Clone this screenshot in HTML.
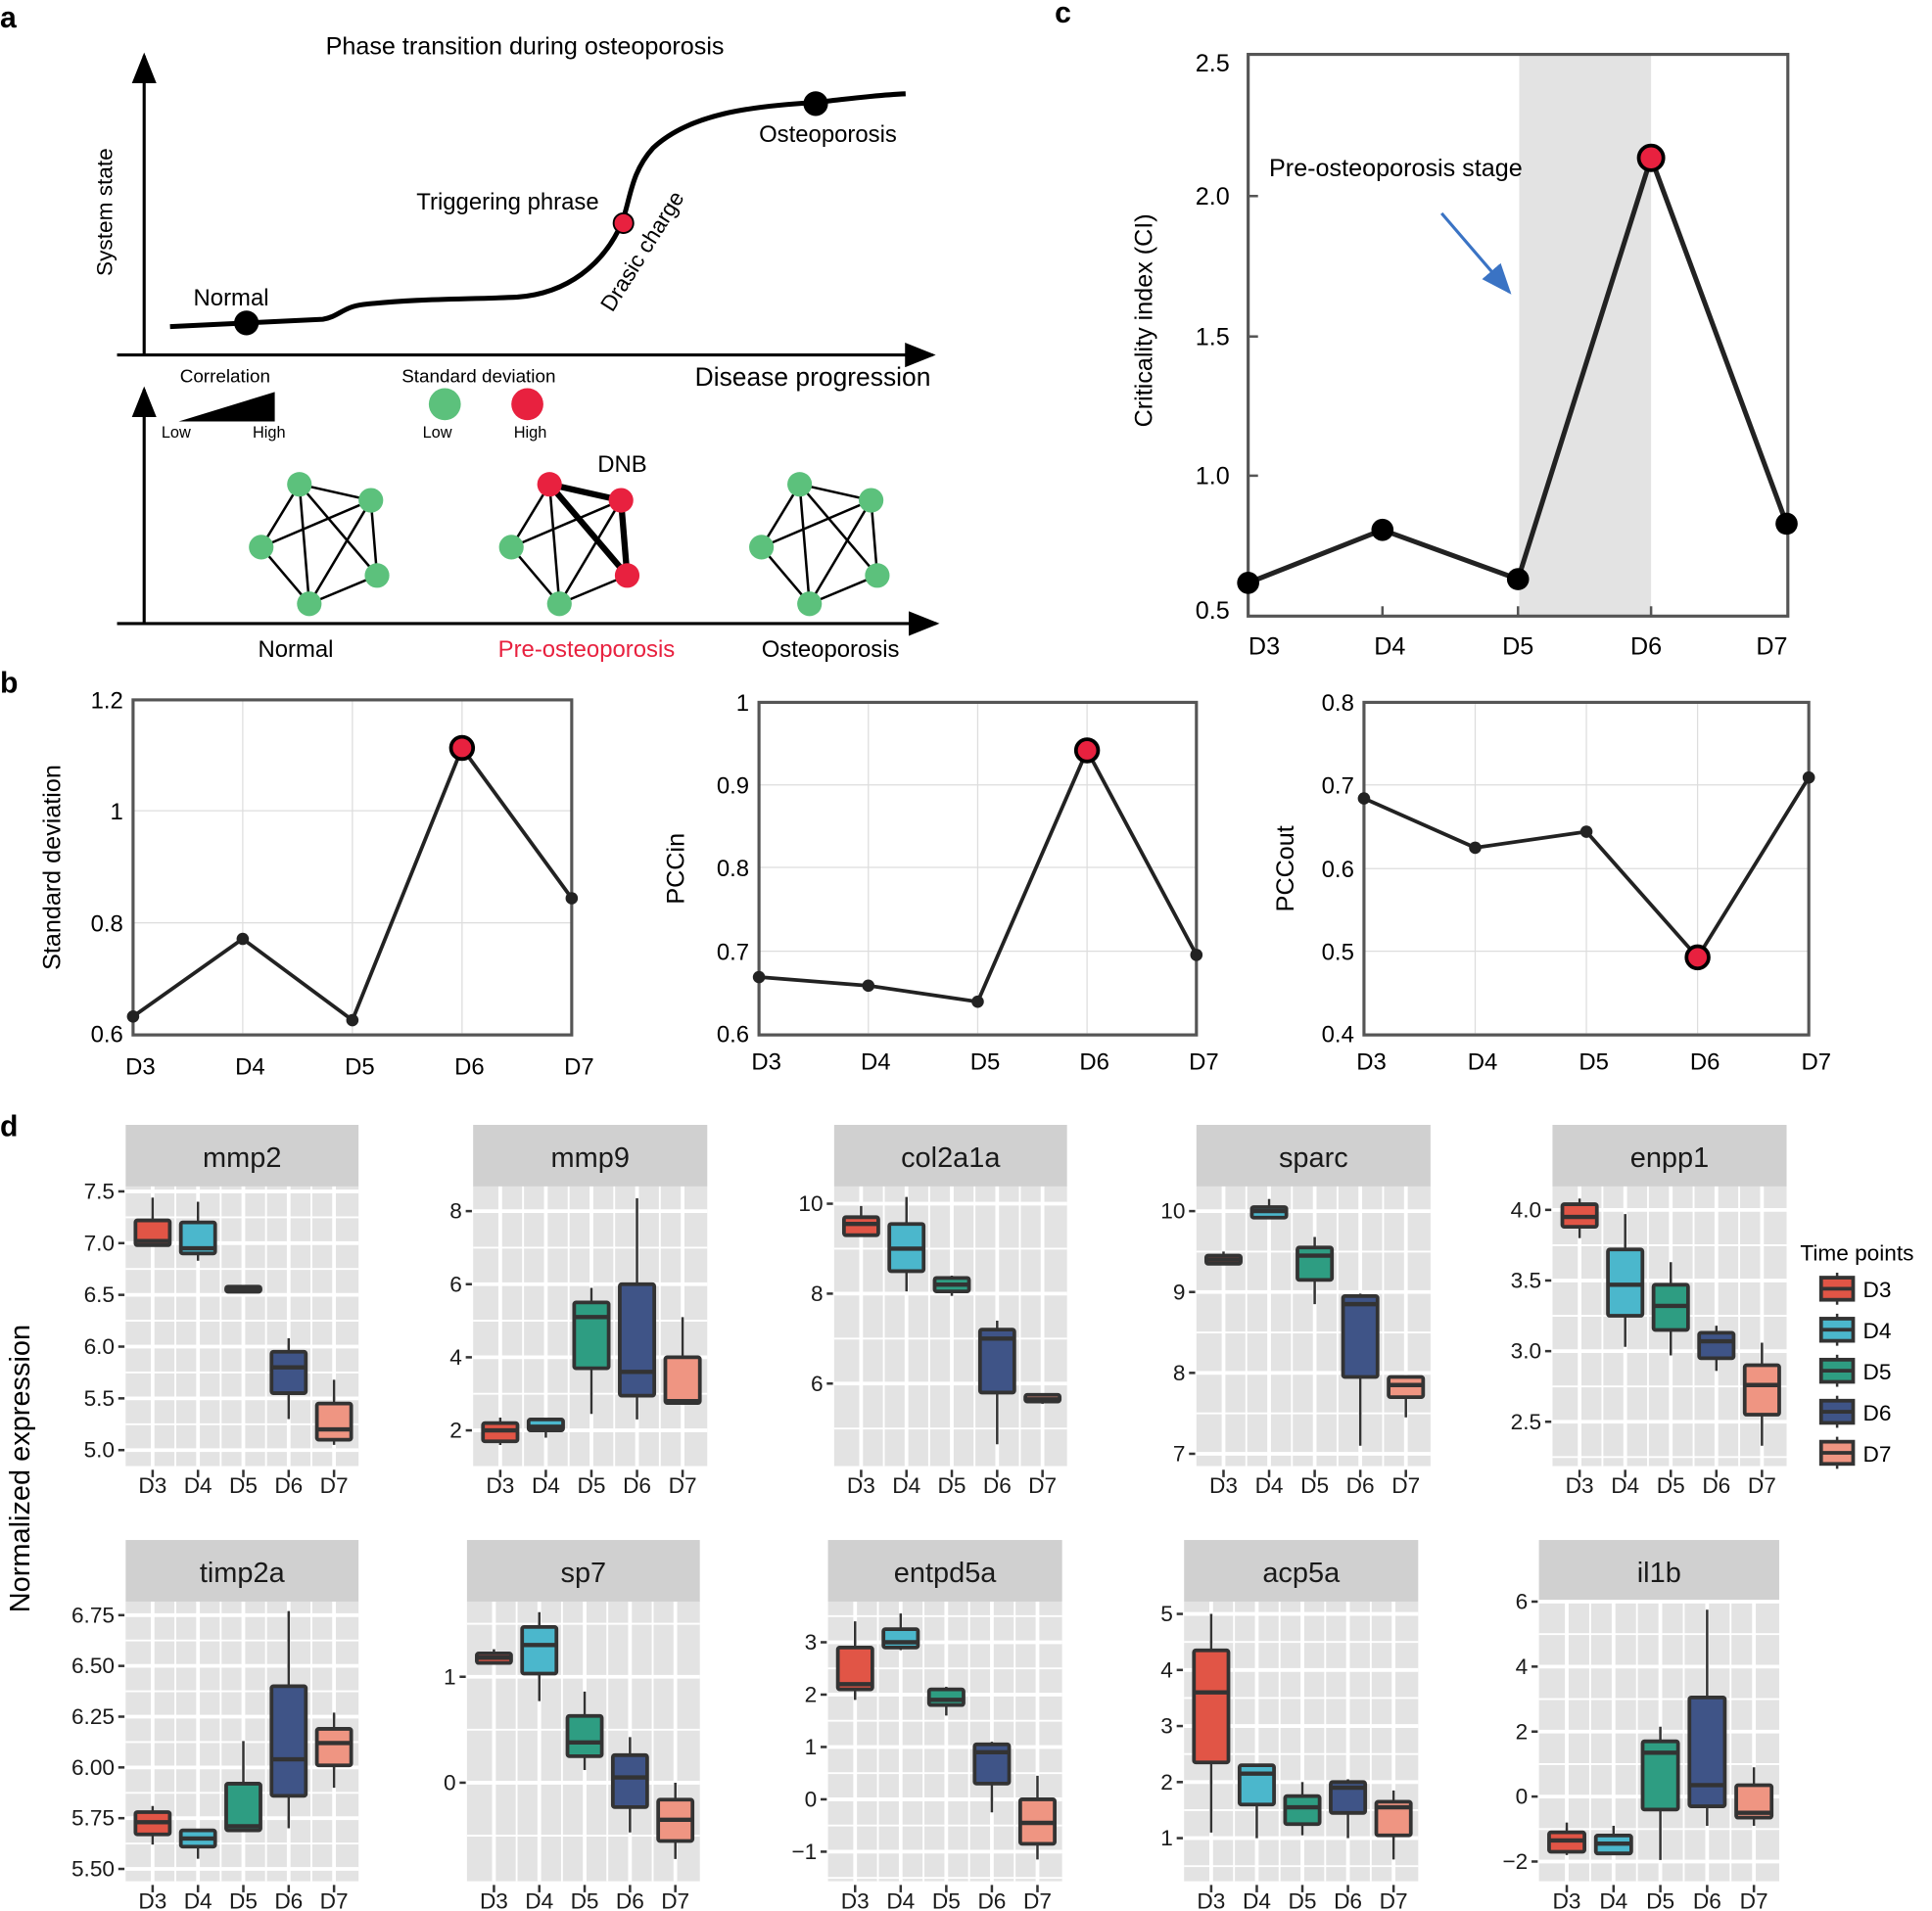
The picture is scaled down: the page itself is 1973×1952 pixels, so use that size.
<!DOCTYPE html>
<html><head><meta charset="utf-8"><style>
html,body{margin:0;padding:0;background:#fff}
svg{display:block;font-family:"Liberation Sans",Arial,sans-serif}
</style></head><body>
<svg id="s" width="1973" height="1952" viewBox="0 0 1568 1551" xmlns="http://www.w3.org/2000/svg">
<defs><marker id="ar" markerWidth="10" markerHeight="8" refX="9" refY="4" orient="auto"><path d="M0,0L10,4L0,8z" fill="#000"/></marker>
<marker id="ab" markerWidth="10" markerHeight="8" refX="9" refY="4" orient="auto"><path d="M0,0L10,4L0,8z" fill="#3A73C4"/></marker></defs>
<g font-weight="bold" font-size="24"><text x="0" y="22">a</text><text x="0" y="562">b</text><text x="856" y="18">c</text><text x="0" y="922">d</text></g>
<g font-size="19">
<line x1="117" y1="289" x2="117" y2="45" stroke="#000" stroke-width="2.5" marker-end="url(#ar)"/>
<line x1="95" y1="288" x2="757" y2="288" stroke="#000" stroke-width="2.5" marker-end="url(#ar)"/>
<text x="426" y="44" text-anchor="middle" font-size="20">Phase transition during osteoporosis</text>
<text transform="translate(91,172) rotate(-90)" text-anchor="middle" font-size="18">System state</text>
<path d="M138,265 L200,262 L262,259 C275,257 278,249 295,247 C340,242 380,243 420,241 C460,238 490,215 505,180 C512,160 512,140 530,120 C560,92 610,86 662,83 C690,80 710,77 735,76" fill="none" stroke="#000" stroke-width="4"/>
<circle cx="200" cy="262" r="10" fill="#000"/><circle cx="506" cy="181" r="8" fill="#E8213F" stroke="#000" stroke-width="1.5"/><circle cx="662" cy="84" r="10" fill="#000"/>
<text x="157" y="248">Normal</text><text x="338" y="170">Triggering phrase</text>
<text transform="translate(497,254) rotate(-58)" font-size="18">Drasic charge</text>
<text x="616" y="115">Osteoporosis</text><text x="564" y="313" font-size="21">Disease progression</text>
<line x1="117" y1="507" x2="117" y2="316" stroke="#000" stroke-width="2.5" marker-end="url(#ar)"/>
<line x1="95" y1="506" x2="760" y2="506" stroke="#000" stroke-width="2.5" marker-end="url(#ar)"/>
<text x="146" y="310" font-size="15">Correlation</text><path d="M145,342L223,342L223,318z" fill="#000"/>
<text x="131" y="355" font-size="13">Low</text><text x="205" y="355" font-size="13">High</text>
<text x="326" y="310" font-size="15">Standard deviation</text>
<circle cx="361" cy="328" r="13" fill="#5CC17C"/><circle cx="428" cy="328" r="13" fill="#E8213F"/>
<text x="343" y="355" font-size="13">Low</text><text x="417" y="355" font-size="13">High</text>
<text x="485" y="383">DNB</text>
<g id="nets"></g>
<text x="240" y="533" text-anchor="middle">Normal</text>
<text x="476" y="533" text-anchor="middle" fill="#E8213F">Pre-osteoporosis</text>
<text x="674" y="533" text-anchor="middle">Osteoporosis</text>
</g>
<g font-size="20">
<rect x="1233" y="44" width="107" height="456" fill="#E3E3E3"/>
<rect x="1013" y="44" width="438" height="456" fill="none" stroke="#555" stroke-width="2.5"/>
<g text-anchor="end"><text x="998" y="58">2.5</text><text x="998" y="166">2.0</text><text x="998" y="280">1.5</text><text x="998" y="393">1.0</text><text x="998" y="502">0.5</text></g>
<g stroke="#555" stroke-width="2"><line x1="1013" y1="159" x2="1021" y2="159"/><line x1="1013" y1="273" x2="1021" y2="273"/><line x1="1013" y1="386" x2="1021" y2="386"/><line x1="1122" y1="500" x2="1122" y2="492"/><line x1="1232" y1="500" x2="1232" y2="492"/><line x1="1340" y1="500" x2="1340" y2="492"/></g>
<g text-anchor="middle"><text x="1026" y="531">D3</text><text x="1128" y="531">D4</text><text x="1232" y="531">D5</text><text x="1336" y="531">D6</text><text x="1438" y="531">D7</text></g>
<text transform="translate(935,260) rotate(-90)" text-anchor="middle">Criticality index (CI)</text>
<text x="1030" y="143">Pre-osteoporosis stage</text>
<line x1="1170" y1="173" x2="1225" y2="237" stroke="#3A73C4" stroke-width="2.5" marker-end="url(#ab)"/>
<polyline points="1013,473 1122,430 1232,470 1340,128 1450,425" fill="none" stroke="#222" stroke-width="4"/>
<circle cx="1013" cy="473" r="9" fill="#000"/><circle cx="1122" cy="430" r="9" fill="#000"/><circle cx="1232" cy="470" r="9" fill="#000"/><circle cx="1450" cy="425" r="9" fill="#000"/>
<circle cx="1340" cy="128" r="10" fill="#E8213F" stroke="#000" stroke-width="3"/>
</g>
<g id="b"></g>
<g id="d"></g>
</svg>
<script>
var NS="http://www.w3.org/2000/svg";
function el(p,t,a,txt){var e=document.createElementNS(NS,t);for(var k in a)e.setAttribute(k,a[k]);if(txt!=null)e.textContent=txt;p.appendChild(e);return e;}
var nets=document.getElementById('nets');
function net(dx,cols,thick){
 var P=[[243,393],[301,406],[212,444],[306,467],[251,490]].map(function(p){return[p[0]+dx,p[1]];});
 var E=[[0,1],[0,2],[0,3],[0,4],[1,4],[1,3],[2,4],[2,1],[3,4]];
 E.forEach(function(e,i){el(nets,'line',{x1:P[e[0]][0],y1:P[e[0]][1],x2:P[e[1]][0],y2:P[e[1]][1],stroke:'#000','stroke-width':thick&&thick[i]?5:2});});
 P.forEach(function(p,i){el(nets,'circle',{cx:p[0],cy:p[1],r:10,fill:cols[i]});});
}
var G='#5CC17C',R='#E8213F';
net(0,[G,G,G,G,G]);
net(203,[R,R,G,R,G],[1,0,1,0,0,1,0,0,0]);
net(406,[G,G,G,G,G]);
var b=document.getElementById('b');
function lineChart(x0,x1,y0,y1,ticks,pts,red,lab,labx,xly){
 var xs=[0,1,2,3,4].map(function(i){return x0+(x1-x0)*i/4;});
 xs.forEach(function(x){el(b,'line',{x1:x,y1:y0,x2:x,y2:y1,stroke:'#ddd','stroke-width':1});});
 ticks.forEach(function(t){el(b,'line',{x1:x0,y1:t[1],x2:x1,y2:t[1],stroke:'#ddd','stroke-width':1});el(b,'text',{x:x0-8,y:t[1]+7,'text-anchor':'end','font-size':19},t[0]);});
 el(b,'rect',{x:x0,y:y0,width:x1-x0,height:y1-y0,fill:'none',stroke:'#555','stroke-width':2.5});
 ['D3','D4','D5','D6','D7'].forEach(function(d,i){el(b,'text',{x:xs[i]+6,y:xly,'text-anchor':'middle','font-size':19},d);});
 el(b,'polyline',{points:pts.map(function(p,i){return xs[i]+','+p;}).join(' '),fill:'none',stroke:'#222','stroke-width':3});
 pts.forEach(function(p,i){if(i==red)el(b,'circle',{cx:xs[i],cy:p,r:9,fill:R,stroke:'#000','stroke-width':3});else el(b,'circle',{cx:xs[i],cy:p,r:5,fill:'#222'});});
 el(b,'text',{transform:'translate('+labx+','+((y0+y1)/2)+') rotate(-90)','text-anchor':'middle','font-size':20},lab);
}
lineChart(108,464,568,840,[['1.2',568],['1',658],['0.8',749],['0.6',839]],[825,762,828,607,729],3,'Standard deviation',49,872);
lineChart(616,971,570,840,[['1',570],['0.9',637],['0.8',704],['0.7',772],['0.6',839]],[793,800,813,609,775],3,'PCCin',555,868);
lineChart(1107,1468,570,840,[['0.8',570],['0.7',637],['0.6',705],['0.5',772],['0.4',839]],[648,688,675,777,631],3,'PCCout',1050,868);
var d=document.getElementById('d');
var C=['#E15546','#4BB7CC','#2E9D82','#3F5487','#EF9582'];
function box(name,x0,x1,st,pt,pb,r1,r2,ticks,tickLab,data){
 el(d,'rect',{x:x0,y:st,width:x1-x0,height:pt-st,fill:'#D0D0D0'});
 el(d,'text',{x:(x0+x1)/2,y:st+34,'text-anchor':'middle','font-size':23,fill:'#1a1a1a'},name);
 el(d,'rect',{x:x0,y:pt,width:x1-x0,height:pb-pt,fill:'#E3E3E3'});
 function Y(v){return r1[1]+(v-r1[0])*(r2[1]-r1[1])/(r2[0]-r1[0]);}
 var w=x1-x0, xs=[0,1,2,3,4].map(function(i){return x0+w*(22+37*i)/190;});
 for(var i=0;i<ticks.length-1;i++){var m=(Y(ticks[i])+Y(ticks[i+1]))/2;el(d,'line',{x1:x0,y1:m,x2:x1,y2:m,stroke:'#fff','stroke-width':1.5});}
 var st2=ticks[1]-ticks[0];
 [ticks[0]-st2/2,ticks[ticks.length-1]+st2/2].forEach(function(v){var y=Y(v);if(y>pt&&y<pb)el(d,'line',{x1:x0,y1:y,x2:x1,y2:y,stroke:'#fff','stroke-width':1.5});});
 for(var i=0;i<4;i++){var m=(xs[i]+xs[i+1])/2;el(d,'line',{x1:m,y1:pt,x2:m,y2:pb,stroke:'#fff','stroke-width':1.5});}
 ticks.forEach(function(t,i){var y=Y(t);el(d,'line',{x1:x0,y1:y,x2:x1,y2:y,stroke:'#fff','stroke-width':3});
  el(d,'line',{x1:x0-6,y1:y,x2:x0-1,y2:y,stroke:'#333','stroke-width':2});
  el(d,'text',{x:x0-9,y:y+6,'text-anchor':'end','font-size':18,fill:'#1a1a1a'},tickLab[i]);});
 xs.forEach(function(x,i){el(d,'line',{x1:x,y1:pt,x2:x,y2:pb,stroke:'#fff','stroke-width':3});
  el(d,'line',{x1:x,y1:pb+3,x2:x,y2:pb+9,stroke:'#333','stroke-width':2});
  el(d,'text',{x:x,y:pb+22,'text-anchor':'middle','font-size':18,fill:'#1a1a1a'},'D'+(i+3));});
 data.forEach(function(q,i){var x=xs[i],bw=w*28/190;
  el(d,'line',{x1:x,y1:Y(q[0]),x2:x,y2:Y(q[4]),stroke:'#333','stroke-width':2});
  var yt=Y(q[3]),yb=Y(q[1]);
  el(d,'rect',{x:x-bw/2,y:yt,width:bw,height:Math.max(yb-yt,2),fill:C[i],stroke:'#333','stroke-width':3,rx:1.5});
  el(d,'line',{x1:x-bw/2,y1:Y(q[2]),x2:x+bw/2,y2:Y(q[2]),stroke:'#333','stroke-width':3.5});
 });
}
function rng(a,b,s,dec){var r=[],l=[];for(var v=a;v<=b+1e-9;v+=s){r.push(v);l.push(v<0?'\u2212'+(-v).toFixed(dec):v.toFixed(dec));}return [r,l];}
function P(name,x0,x1,row,r1,r2,t,data){var st=row?1250:913,pt=row?1300:963,pb=row?1527:1190;box(name,x0,x1,st,pt,pb,r1,r2,t[0],t[1],data);}
P('mmp2',102,291,0,[7.5,967],[5.0,1177],rng(5,7.5,.5,1),[[6.97,6.98,7.02,7.22,7.44],[6.83,6.9,6.95,7.2,7.4],[6.53,6.53,6.55,6.58,6.58],[5.3,5.55,5.8,5.95,6.08],[5.05,5.1,5.2,5.45,5.68]]);
P('mmp9',384,574,0,[8,983],[2,1161],rng(2,8,2,0),[[1.6,1.7,2.0,2.2,2.35],[1.8,2.0,2.1,2.3,2.3],[2.45,3.7,5.1,5.5,5.9],[2.3,2.95,3.6,6.0,8.35],[2.75,2.75,2.8,4.0,5.1]]);
P('col2a1a',677,866,0,[10,977],[6,1123],rng(6,10,2,0),[[9.3,9.3,9.55,9.7,9.95],[8.05,8.5,9.0,9.55,10.15],[7.95,8.05,8.2,8.35,8.4],[4.65,5.8,7.0,7.2,7.4],[5.55,5.6,5.65,5.75,5.75]]);
P('sparc',971,1161,0,[10,983],[7,1180],rng(7,10,1,0),[[9.35,9.35,9.4,9.45,9.5],[9.92,9.92,10.0,10.05,10.15],[8.85,9.15,9.45,9.55,9.68],[7.1,7.95,8.85,8.95,8.98],[7.45,7.7,7.85,7.95,7.95]]);
P('enpp1',1260,1450,0,[4,982],[2.5,1154],rng(2.5,4,.5,1),[[3.8,3.88,3.95,4.04,4.08],[3.03,3.25,3.47,3.72,3.97],[2.97,3.15,3.32,3.47,3.63],[2.86,2.95,3.07,3.13,3.18],[2.33,2.55,2.76,2.9,3.06]]);
P('timp2a',102,291,1,[6.75,1311],[5.5,1517],rng(5.5,6.75,.25,2),[[5.62,5.67,5.73,5.78,5.81],[5.55,5.61,5.65,5.69,5.69],[5.69,5.69,5.71,5.92,6.13],[5.7,5.86,6.04,6.4,6.77],[5.9,6.01,6.12,6.19,6.27]]);
P('sp7',379,568,1,[1,1361],[0,1447],rng(0,1,1,0),[[1.13,1.13,1.18,1.22,1.26],[0.77,1.03,1.3,1.47,1.61],[0.12,0.25,0.38,0.63,0.86],[-0.47,-0.23,0.05,0.26,0.43],[-0.72,-0.55,-0.35,-0.16,0.0]]);
P('entpd5a',672,862,1,[3,1333],[-1,1503],rng(-1,3,1,0),[[1.9,2.1,2.2,2.9,3.4],[2.85,2.9,3.0,3.25,3.55],[1.6,1.8,1.9,2.1,2.15],[-0.25,0.3,0.9,1.05,1.1],[-1.15,-0.85,-0.45,0.0,0.45]]);
P('acp5a',961,1151,1,[5,1310],[1,1492],rng(1,5,1,0),[[1.1,2.35,3.6,4.35,5.0],[1.0,1.6,2.15,2.3,2.3],[1.05,1.25,1.55,1.75,2.0],[1.0,1.45,1.9,2.0,2.05],[0.62,1.05,1.55,1.65,1.85]]);
P('il1b',1249,1444,1,[6,1300],[-2,1511],rng(-2,6,2,0),[[-1.8,-1.7,-1.35,-1.1,-0.8],[-1.8,-1.75,-1.45,-1.2,-0.9],[-1.95,-0.4,1.35,1.7,2.15],[-0.9,-0.3,0.35,3.05,5.75],[-0.9,-0.65,-0.5,0.35,0.9]]);
el(d,'text',{transform:'translate(24,1192) rotate(-90)','text-anchor':'middle','font-size':23},'Normalized expression');
el(d,'text',{x:1461,y:1023,'font-size':18},'Time points');
C.forEach(function(c,i){var y=1036+i*33.3;
 el(d,'line',{x1:1491,y1:y-3,x2:1491,y2:y+23,stroke:'#333','stroke-width':2});
 el(d,'rect',{x:1478,y:y+1,width:26,height:18,fill:c,stroke:'#333','stroke-width':3});
 el(d,'line',{x1:1478,y1:y+10,x2:1504,y2:y+10,stroke:'#333','stroke-width':3});
 el(d,'text',{x:1512,y:y+17,'font-size':18},'D'+(i+3));});
</script>
</body></html>
